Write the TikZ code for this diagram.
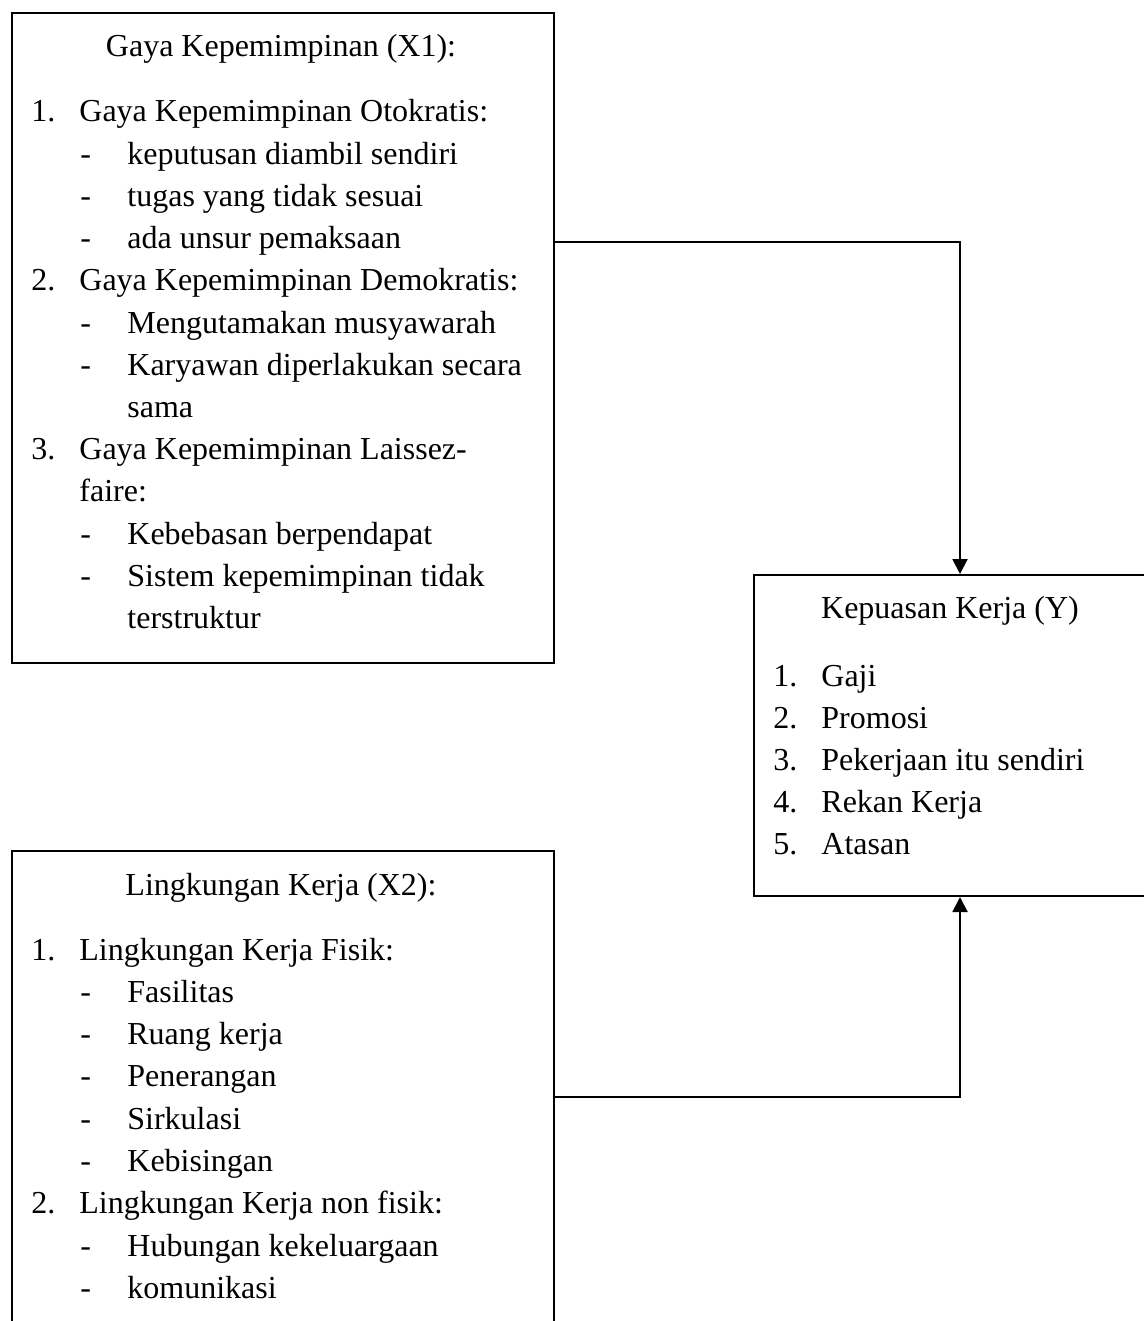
\documentclass[tikz,border=0pt]{standalone}
\usepackage{fontspec}
\setmainfont{Liberation Serif}
\usetikzlibrary{arrows.meta}
\tikzset{
  box/.style={draw, rectangle, line width=1pt, inner sep=0pt, anchor=north west},
  txt/.style={inner sep=0pt, anchor=base west, yshift=-2pt, font=\fontsize{16pt}{19pt}\selectfont},
  ttl/.style={txt, anchor=base},
  conn/.style={line width=1pt, -{Triangle[length=7.5pt,width=7.5pt]}}
}
\begin{document}
\begin{tikzpicture}[x=0.5pt, y=-0.5pt]
\useasboundingbox (0,0) rectangle (1144,1321);
% boxes
\node[box, minimum width=271pt, minimum height=324.5pt] (x1) at (10.5,12.5) {};
\node[box, minimum width=200pt, minimum height=160.5pt] (y) at (752.5,574) {};
\node[box, minimum width=271pt, minimum height=250pt] (x2) at (10.5,850) {};

% X1 texts
\node[ttl] (x1t) at (281,53) {Gaya Kepemimpinan (X1):};
\node[txt] (a1n) at (31,118) {1.};
\node[txt] (a1) at (79,118) {Gaya Kepemimpinan Otokratis:};
\node[txt] (a11d) at (80,160.2) {-};
\node[txt] (a11) at (127,160.2) {keputusan diambil sendiri};
\node[txt] (a12d) at (80,202.4) {-};
\node[txt] (a12) at (127,202.4) {tugas yang tidak sesuai};
\node[txt] (a13d) at (80,244.6) {-};
\node[txt] (a13) at (127,244.6) {ada unsur pemaksaan};
\node[txt] (a2n) at (31,286.8) {2.};
\node[txt] (a2) at (79,286.8) {Gaya Kepemimpinan Demokratis:};
\node[txt] (a21d) at (80,329) {-};
\node[txt] (a21) at (127,329) {Mengutamakan musyawarah};
\node[txt] (a22d) at (80,371.2) {-};
\node[txt] (a22) at (127,371.2) {Karyawan diperlakukan secara};
\node[txt] (a22b) at (127,413.4) {sama};
\node[txt] (a3n) at (31,455.6) {3.};
\node[txt] (a3) at (79,455.6) {Gaya Kepemimpinan Laissez-};
\node[txt] (a3b) at (79,497.8) {faire:};
\node[txt] (a31d) at (80,540) {-};
\node[txt] (a31) at (127,540) {Kebebasan berpendapat};
\node[txt] (a32d) at (80,582.2) {-};
\node[txt] (a32) at (127,582.2) {Sistem kepemimpinan tidak};
\node[txt] (a32b) at (127,624.4) {terstruktur};

% Y texts
\node[ttl] (yt) at (950,614) {Kepuasan Kerja (Y)};
\node[txt] (y1n) at (773,682) {1.};
\node[txt] (y1) at (821,682) {Gaji};
\node[txt] (y2n) at (773,724) {2.};
\node[txt] (y2) at (821,724) {Promosi};
\node[txt] (y3n) at (773,766) {3.};
\node[txt] (y3) at (821,766) {Pekerjaan itu sendiri};
\node[txt] (y4n) at (773,808) {4.};
\node[txt] (y4) at (821,808) {Rekan Kerja};
\node[txt] (y5n) at (773,850) {5.};
\node[txt] (y5) at (821,850) {Atasan};

% X2 texts
\node[ttl] (x2t) at (281,891) {Lingkungan Kerja (X2):};
\node[txt] (b1n) at (31,956) {1.};
\node[txt] (b1) at (79,956) {Lingkungan Kerja Fisik:};
\node[txt] (b11d) at (80,998.3) {-};
\node[txt] (b11) at (127,998.3) {Fasilitas};
\node[txt] (b12d) at (80,1040.6) {-};
\node[txt] (b12) at (127,1040.6) {Ruang kerja};
\node[txt] (b13d) at (80,1082.9) {-};
\node[txt] (b13) at (127,1082.9) {Penerangan};
\node[txt] (b14d) at (80,1125.2) {-};
\node[txt] (b14) at (127,1125.2) {Sirkulasi};
\node[txt] (b15d) at (80,1167.5) {-};
\node[txt] (b15) at (127,1167.5) {Kebisingan};
\node[txt] (b2n) at (31,1209.8) {2.};
\node[txt] (b2) at (79,1209.8) {Lingkungan Kerja non fisik:};
\node[txt] (b21d) at (80,1252.1) {-};
\node[txt] (b21) at (127,1252.1) {Hubungan kekeluargaan};
\node[txt] (b22d) at (80,1294.4) {-};
\node[txt] (b22) at (127,1294.4) {komunikasi};

% connectors
\coordinate (j1) at (960,242);
\coordinate (j2) at (960,1097);
\draw[conn] (x1.east |- j1) -- (j1) -- (y.north -| j1);
\draw[conn] (x2.east |- j2) -- (j2) -- (y.south -| j2);
\end{tikzpicture}
\end{document}
